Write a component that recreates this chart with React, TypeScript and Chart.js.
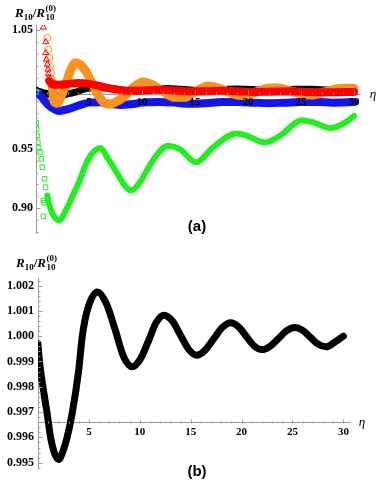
import React, { useEffect, useRef } from "react";
import { Chart, registerables } from "chart.js";

Chart.register(...registerables);

// ---------------- data ----------------
const xTickValues = [5, 10, 15, 20, 25, 30];
const xTickLabels = ["5", "10", "15", "20", "25", "30"];
const topYTickValues = [0.9, 0.95, 1.0, 1.05];
const topYTickLabels = ["0.90", "0.95", "", "1.05"];
const botYTickValues = [0.995, 0.996, 0.997, 0.998, 0.999, 1.0, 1.001, 1.002];
const botYTickLabels = ["0.995", "0.996", "0.997", "0.998", "0.999", "1.000", "1.001", "1.002"];

// black series (R10 / R10^(0)), shown in both panels
const blackEta = [0, 0.1, 0.25, 0.6, 0.9, 1.23, 1.6, 2.03, 2.45, 2.86, 3.35, 4.0, 4.35, 4.9, 5.83, 6.7, 7.55, 8.4, 9.27, 10.05, 10.85, 11.6, 12.38, 13.2, 14.0, 14.8, 15.6, 16.4, 17.25, 18.1, 18.9, 19.7, 20.45, 21.2, 22.0, 22.8, 23.6, 24.4, 25.2, 26.0, 26.75, 27.5, 28.3, 29.2, 30.0];
const blackR = [0.9997, 0.9992, 0.99866, 0.9977, 0.99694, 0.99602, 0.9954, 0.99513, 0.99545, 0.996, 0.99694, 0.99866, 1.0, 1.0011, 1.00175, 1.0013, 1.0003, 0.9992, 0.99879, 0.99909, 0.99981, 1.00053, 1.00083, 1.0006, 1.00004, 0.99948, 0.99925, 0.99944, 0.99989, 1.00034, 1.00053, 1.00037, 1.0, 0.99963, 0.99947, 0.9996, 0.9999, 1.00021, 1.00034, 1.00023, 0.99996, 0.99969, 0.99958, 0.99978, 1.0];

// green series
const greenEta = [1.07, 1.23, 1.55, 2.2, 2.8, 3.4, 4.05, 4.85, 5.6, 6.1, 6.7, 7.5, 8.5, 9.0, 9.8, 11.0, 12.45, 13.55, 15.1, 16.7, 18.9, 19.9, 21.6, 23.0, 25.1, 26.2, 27.8, 29.0, 30.0];
const greenR = [0.9107, 0.9038, 0.8954, 0.8898, 0.898, 0.9093, 0.9219, 0.94, 0.949, 0.9508, 0.9429, 0.9317, 0.9177, 0.915, 0.922, 0.94, 0.9527, 0.95, 0.9387, 0.9513, 0.963, 0.961, 0.9555, 0.961, 0.9742, 0.9722, 0.9675, 0.9714, 0.9778];
const greenSparseEta = [0, 0.02, 0.06, 0.1, 0.18, 0.26, 0.38, 0.5, 0.6, 0.82, 0.9, 0.68, 0.76, 0.7];
const greenSparseR = [0.998, 0.972, 0.9667, 0.961, 0.9555, 0.951, 0.947, 0.9415, 0.9345, 0.9247, 0.9177, 0.9065, 0.9045, 0.893];

// orange series
const orangeEta = [1.5, 1.7, 2.0, 2.4, 2.8, 3.2, 3.75, 4.2, 4.7, 5.2, 5.66, 6.3, 6.9, 7.5, 8.2, 9.2, 10.1, 11.0, 12.0, 13.0, 14.0, 15.0, 16.2, 17.5, 18.5, 19.4, 20.5, 21.5, 22.7, 24.0, 25.0, 26.0, 27.2, 28.3, 29.3, 30.0];
const orangeR = [1.006, 0.99, 0.9885, 0.995, 1.004, 1.015, 1.0226, 1.021, 1.0156, 1.007, 0.9988, 0.99, 0.9877, 0.9895, 0.9932, 1.002, 1.0065, 1.004, 0.9985, 0.9935, 0.9935, 0.998, 1.003, 1.0005, 0.9965, 0.995, 0.997, 1.0005, 1.0015, 0.999, 0.9965, 0.9955, 0.998, 1.0005, 1.0012, 1.001];
const orangeSparseEta = [1.07, 1.17, 1.25, 1.32, 1.4, 1.47];
const orangeSparseR = [1.0435, 1.0338, 1.0268, 1.0198, 1.0142, 1.0086];

// red series
const redEta = [1.25, 1.5, 2.2, 3.0, 4.0, 5.0, 6.0, 7.0, 8.0, 9.0, 10.0, 11.5, 13.0, 14.5, 16.0, 17.5, 19.0, 20.5, 22.0, 24.0, 26.0, 28.0, 30.0];
const redR = [1.0072, 1.0045, 1.004, 1.0048, 1.0055, 1.0048, 1.003, 1.001, 0.9995, 0.999, 0.9993, 0.9998, 0.9993, 0.9985, 0.9985, 0.999, 0.9987, 0.998, 0.9982, 0.9985, 0.998, 0.9978, 0.998];
const redSparseEta = [0.69, 0.92, 0.92, 0.98, 1.07, 1.12, 1.16, 1.2];
const redSparseR = [1.0525, 1.0402, 1.031, 1.0254, 1.0212, 1.017, 1.0133, 1.01];

// blue series
const blueEta = [0, 0.5, 1.0, 1.5, 2.2, 3.0, 4.0, 5.0, 6.0, 7.0, 8.0, 9.0, 10.0, 11.5, 13.0, 14.5, 16.0, 17.5, 19.0, 20.5, 22.0, 23.5, 25.0, 26.5, 28.0, 30.0];
const blueR = [0.9985, 0.994, 0.9885, 0.9845, 0.982, 0.9835, 0.9865, 0.989, 0.9893, 0.988, 0.987, 0.9877, 0.989, 0.9895, 0.989, 0.988, 0.9885, 0.9895, 0.9895, 0.989, 0.9885, 0.989, 0.9895, 0.9895, 0.989, 0.9895];

// ---------------- styles ----------------
const AXIS = "#9d9d9d";
const SERIF = '"Liberation Serif", "Times New Roman", serif';
const SANS = '"Liberation Sans", Arial, sans-serif';
const ORANGE = "#f7931e";
const RED = "#ff0000";
const BLUE = "#1414eb";
const GREEN = "#22ee22";

const zip = (xs: number[], ys: number[]) => xs.map((x, i) => ({ x, y: ys[i] }));

function lineSet(label: string, xs: number[], ys: number[], color: string, width: number) {
  return {
    label,
    data: zip(xs, ys),
    borderColor: color,
    backgroundColor: color,
    borderWidth: width,
    borderCapStyle: "round",
    borderJoinStyle: "round",
    pointRadius: 0,
    cubicInterpolationMode: "monotone",
    fill: false,
    showLine: true,
  };
}

function markerSet(label: string, xs: number[], ys: number[], color: string, style: string, r: number) {
  return {
    label,
    data: zip(xs, ys),
    showLine: false,
    pointStyle: style,
    pointRadius: r,
    pointBorderWidth: 1,
    borderColor: color,
    pointBorderColor: color,
    backgroundColor: "rgba(0,0,0,0)",
    pointBackgroundColor: "rgba(0,0,0,0)",
  };
}

function drawTitle(ctx: CanvasRenderingContext2D, x: number, base: number) {
  ctx.fillStyle = "#000";
  ctx.textAlign = "left";
  ctx.textBaseline = "alphabetic";
  const big = `italic bold 13px ${SERIF}`;
  const small = `bold 9px ${SERIF}`;
  ctx.font = big;
  ctx.fillText("R", x, base);
  x += ctx.measureText("R").width;
  ctx.font = small;
  ctx.fillText("10", x, base + 3);
  x += ctx.measureText("10").width;
  ctx.font = `bold 13px ${SERIF}`;
  ctx.fillText("/", x, base);
  x += ctx.measureText("/").width;
  ctx.font = big;
  ctx.fillText("R", x, base);
  x += ctx.measureText("R").width + 0.5;
  ctx.font = small;
  ctx.fillText("(0)", x, base - 6);
  ctx.fillText("10", x, base + 3);
}

function decorations(o: {
  crossY: number;
  yMajor: number[];
  yMinorStep: number;
  title: { x: number; y: number };
  eta: { x: number; y: number };
  panel: { text: string; x: number; y: number };
}) {
  return {
    id: "deco",
    afterDraw(chart: any) {
      const { ctx } = chart;
      const xs = chart.scales.x;
      const ys = chart.scales.y;
      const ay = Math.round(ys.getPixelForValue(o.crossY)) + 0.5;
      const ax = Math.round(xs.getPixelForValue(0)) + 0.5;
      ctx.save();
      ctx.strokeStyle = AXIS;
      ctx.lineWidth = 1;
      ctx.beginPath();
      for (let k = 1; k <= Math.floor(xs.max); k++) {
        const px = Math.round(xs.getPixelForValue(k)) + 0.5;
        const len = k % 5 === 0 ? 4 : 2;
        ctx.moveTo(px, ay);
        ctx.lineTo(px, ay - len);
      }
      const n0 = Math.ceil(ys.min / o.yMinorStep - 1e-9);
      const n1 = Math.floor(ys.max / o.yMinorStep + 1e-9);
      for (let k = n0; k <= n1; k++) {
        const v = k * o.yMinorStep;
        const major = o.yMajor.some((m) => Math.abs(m - v) < o.yMinorStep / 10);
        const py = Math.round(ys.getPixelForValue(v)) + 0.5;
        ctx.moveTo(ax, py);
        ctx.lineTo(ax + (major ? 4 : 2), py);
      }
      ctx.stroke();
      drawTitle(ctx, o.title.x, o.title.y);
      ctx.font = `italic 13px ${SERIF}`;
      ctx.textAlign = "center";
      ctx.textBaseline = "middle";
      ctx.fillStyle = "#000";
      ctx.fillText("\u03b7", o.eta.x, o.eta.y);
      ctx.font = `bold 15px ${SANS}`;
      ctx.fillText(o.panel.text, o.panel.x, o.panel.y);
      ctx.restore();
    },
  };
}

function makeScales(p: {
  xMax: number;
  yMin: number;
  yMax: number;
  crossY: number;
  yVals: number[];
  yLabels: string[];
  yWidth: number;
  yPad: number;
  xPad: number;
  xLabelZ: number;
}) {
  return {
    x: {
      type: "linear",
      min: 0,
      max: p.xMax,
      position: { y: p.crossY },
      afterFit: (s: any) => {
        s.height = 0;
      },
      afterBuildTicks: (s: any) => {
        s.ticks = xTickValues.map((v) => ({ value: v }));
      },
      grid: { display: true, drawOnChartArea: false, drawTicks: false, color: "rgba(0,0,0,0)" },
      border: { display: true, color: AXIS, width: 1 },
      ticks: {
        z: p.xLabelZ,
        autoSkip: false,
        maxRotation: 0,
        padding: p.xPad,
        color: "#000",
        font: { family: SERIF, size: 11, weight: "bold" },
        callback: (_v: any, i: number) => xTickLabels[i],
      },
    },
    y: {
      type: "linear",
      min: p.yMin,
      max: p.yMax,
      position: "left",
      afterFit: (s: any) => {
        s.width = p.yWidth;
      },
      afterBuildTicks: (s: any) => {
        s.ticks = p.yVals.map((v) => ({ value: v }));
      },
      grid: { display: true, drawOnChartArea: false, drawTicks: false, color: "rgba(0,0,0,0)" },
      border: { display: true, color: AXIS, width: 1 },
      ticks: {
        autoSkip: false,
        padding: p.yPad,
        color: "#000",
        font: { family: SERIF, size: 12, weight: "bold" },
        callback: (_v: any, i: number) => p.yLabels[i],
      },
    },
  };
}

function topConfig(): any {
  const crossY = 0.996;
  return {
    type: "line",
    data: {
      datasets: [
        markerSet("red markers", redSparseEta, redSparseR, RED, "triangle", 3.5),
        lineSet("red", redEta, redR, RED, 8),
        markerSet("orange markers", orangeSparseEta, orangeSparseR, ORANGE, "circle", 3.5),
        lineSet("orange", orangeEta, orangeR, ORANGE, 9),
        markerSet("green markers", greenSparseEta, greenSparseR, GREEN, "rect", 3.2),
        lineSet("green", greenEta, greenR, GREEN, 6),
        lineSet("blue", blueEta, blueR, BLUE, 8),
        lineSet("black", blackEta, blackR, "#000", 7),
      ],
    },
    options: {
      responsive: false,
      animation: false,
      layout: { padding: { left: 0, right: 21.6, top: 25, bottom: 12 } },
      plugins: { legend: { display: false }, tooltip: { enabled: false } },
      scales: makeScales({
        xMax: 30.6,
        yMin: 0.879,
        yMax: 1.0545,
        crossY,
        yVals: topYTickValues,
        yLabels: topYTickLabels,
        yWidth: 36,
        yPad: 3,
        xPad: 1.5,
        xLabelZ: 5,
      }),
    },
    plugins: [
      decorations({
        crossY,
        yMajor: topYTickValues,
        yMinorStep: 0.01,
        title: { x: 15, y: 16.5 },
        eta: { x: 373, y: 95 },
        panel: { text: "(a)", x: 197, y: 227 },
      }),
    ],
  };
}

function bottomConfig(): any {
  const crossY = 0.99658;
  return {
    type: "line",
    data: {
      datasets: [lineSet("black", blackEta, blackR, "#000", 7)],
    },
    options: {
      responsive: false,
      animation: false,
      layout: { padding: { left: 0, right: 32, top: 33, bottom: 18 } },
      plugins: { legend: { display: false }, tooltip: { enabled: false } },
      scales: makeScales({
        xMax: 30.65,
        yMin: 0.99479,
        yMax: 1.0023,
        crossY,
        yVals: botYTickValues,
        yLabels: botYTickLabels,
        yWidth: 38,
        yPad: 4,
        xPad: 2.5,
        xLabelZ: 0,
      }),
    },
    plugins: [
      decorations({
        crossY,
        yMajor: botYTickValues,
        yMinorStep: 0.0002,
        title: { x: 16, y: 21.5 },
        eta: { x: 362, y: 178 },
        panel: { text: "(b)", x: 197, y: 227 },
      }),
    ],
  };
}

function Panel({ make, top, height }: { make: () => any; top: number; height: number }) {
  const ref = useRef<HTMLCanvasElement>(null);
  useEffect(() => {
    const chart = new Chart(ref.current as HTMLCanvasElement, make());
    return () => chart.destroy();
  }, []);
  return (
    <canvas
      ref={ref}
      width={382}
      height={height}
      style={{ position: "absolute", left: 0, top, width: 382, height, display: "block" }}
    />
  );
}

export default function App() {
  return (
    <div style={{ position: "absolute", left: 0, top: 0, width: 382, height: 486, background: "#fff", overflow: "hidden" }}>
      <Panel make={topConfig} top={0} height={245} />
      <Panel make={bottomConfig} top={245} height={241} />
    </div>
  );
}
